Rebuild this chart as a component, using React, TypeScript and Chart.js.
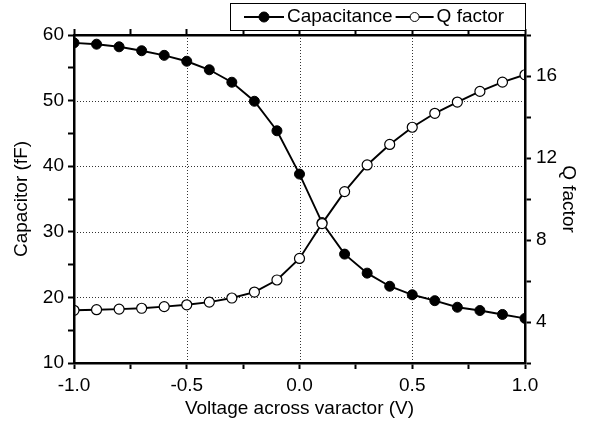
import React, { useEffect, useRef } from 'react';
import { Chart, registerables } from 'chart.js';

Chart.register(...registerables);

// ---- Data ----
const voltages = [-1.0, -0.9, -0.8, -0.7, -0.6, -0.5, -0.4, -0.3, -0.2, -0.1, 0.0, 0.1, 0.2, 0.3, 0.4, 0.5, 0.6, 0.7, 0.8, 0.9, 1.0];
const capacitance = [58.8, 58.6, 58.2, 57.6, 56.9, 56.0, 54.7, 52.8, 49.9, 45.4, 38.8, 31.4, 26.6, 23.7, 21.7, 20.4, 19.5, 18.5, 18.0, 17.4, 16.8];
const qFactor = [4.57, 4.6, 4.63, 4.67, 4.75, 4.84, 4.97, 5.17, 5.46, 6.05, 7.1, 8.8, 10.36, 11.66, 12.66, 13.5, 14.18, 14.73, 15.25, 15.7, 16.06];

const xTickLabels = [-1.0, -0.5, 0.0, 0.5, 1.0];
const leftTickLabels = [10, 20, 30, 40, 50, 60];
const rightTickLabels = [4, 8, 12, 16];
const xGridValues = [-0.5, 0.0, 0.5];
const yGridValues = [20, 30, 40, 50];

const seriesNames = ['Capacitance', 'Q factor'];
const xTitle = 'Voltage across varactor (V)';
const leftTitle = 'Capacitor (fF)';
const rightTitle = 'Q factor';

const FONT = '"Liberation Sans", Arial, sans-serif';
const FS = 19;
const near = (a: number, b: number) => Math.abs(a - b) < 1e-6;

const dottedGrid = {
  id: 'dottedGrid',
  beforeDatasetsDraw(chart: any) {
    const { ctx, chartArea } = chart;
    const xs = chart.scales.x;
    const ys = chart.scales.y;
    ctx.save();
    ctx.strokeStyle = '#333';
    ctx.lineWidth = 1;
    ctx.setLineDash([1, 2]);
    xGridValues.forEach((v) => {
      const px = Math.round(xs.getPixelForValue(v)) + 0.5;
      ctx.beginPath();
      ctx.moveTo(px, chartArea.top);
      ctx.lineTo(px, chartArea.bottom);
      ctx.stroke();
    });
    yGridValues.forEach((v) => {
      const py = Math.round(ys.getPixelForValue(v)) + 0.5;
      ctx.beginPath();
      ctx.moveTo(chartArea.left, py);
      ctx.lineTo(chartArea.right, py);
      ctx.stroke();
    });
    ctx.restore();
  },
};

const boxLegend = {
  id: 'boxLegend',
  afterDraw(chart: any) {
    const { ctx, chartArea } = chart;
    const right = chartArea.right;
    const w = 295;
    const h = 27;
    const x0 = right - w;
    const y0 = 3;
    ctx.save();
    ctx.fillStyle = '#fff';
    ctx.fillRect(x0, y0, w, h);
    ctx.strokeStyle = '#000';
    ctx.lineWidth = 1;
    ctx.strokeRect(x0 + 0.5, y0 + 0.5, w, h);
    ctx.font = `${FS}px ${FONT}`;
    ctx.textBaseline = 'middle';
    ctx.fillStyle = '#000';
    const cy = y0 + h / 2 + 0.5;
    let x = x0 + 14;
    chart.data.datasets.forEach((ds: any, i: number) => {
      const lineLen = i === 0 ? 40 : 38;
      ctx.strokeStyle = '#000';
      ctx.lineWidth = 2;
      ctx.beginPath();
      ctx.moveTo(x, cy);
      ctx.lineTo(x + lineLen, cy);
      ctx.stroke();
      ctx.beginPath();
      ctx.arc(x + lineLen / 2, cy, i === 0 ? 5 : 4.5, 0, Math.PI * 2);
      ctx.fillStyle = ds.pointBackgroundColor;
      ctx.fill();
      ctx.lineWidth = 1;
      ctx.stroke();
      ctx.fillStyle = '#000';
      ctx.textAlign = 'left';
      ctx.fillText(ds.label, x + lineLen + 3, cy);
      x += lineLen + 3 + ctx.measureText(ds.label).width + 3;
    });
    ctx.restore();
  },
};

export default function App() {
  const canvasRef = useRef<HTMLCanvasElement | null>(null);

  useEffect(() => {
    if (!canvasRef.current) return;
    const tickFont = { family: FONT, size: FS };
    const titleFont = { family: FONT, size: FS };
    const chart = new Chart(canvasRef.current, {
      type: 'line',
      data: {
        datasets: [
          {
            label: seriesNames[0],
            data: voltages.map((v, i) => ({ x: v, y: capacitance[i] })),
            yAxisID: 'y',
            borderColor: '#000',
            borderWidth: 1.9,
            pointRadius: 5,
            pointBackgroundColor: '#000',
            pointBorderColor: '#000',
            pointBorderWidth: 1,
            clip: 0,
            order: 2,
          },
          {
            label: seriesNames[1],
            data: voltages.map((v, i) => ({ x: v, y: qFactor[i] })),
            yAxisID: 'y1',
            borderColor: '#000',
            borderWidth: 1.9,
            pointRadius: 5,
            pointBackgroundColor: '#fff',
            pointBorderColor: '#000',
            pointBorderWidth: 1.2,
            clip: 0,
            order: 1,
          },
        ],
      },
      options: {
        animation: false,
        responsive: false,
        maintainAspectRatio: false,
        layout: { padding: { top: 29, left: 0, right: 0, bottom: 0 } },
        plugins: { legend: { display: false }, tooltip: { enabled: false } },
        scales: {
          x: {
            type: 'linear',
            position: 'bottom',
            min: -1,
            max: 1,
            afterBuildTicks: (s: any) => {
              const t = [];
              for (let k = 0; k <= 8; k++) t.push({ value: -1 + k * 0.25 });
              s.ticks = t;
            },
            afterFit: (s: any) => { s.height = 63; },
            ticks: {
              font: tickFont,
              color: '#000',
              padding: 5,
              maxRotation: 0,
              autoSkip: false,
              callback: (v: any) => {
                const m = xTickLabels.find((t) => near(t, Number(v)));
                return m === undefined ? '' : m.toFixed(1);
              },
            },
            grid: { drawOnChartArea: false, drawTicks: true, tickLength: 6, tickWidth: 2, tickColor: '#000', color: '#000', lineWidth: 1 },
            border: { display: true, color: '#000', width: 2.5, z: 1 },
            title: { display: true, text: xTitle, font: titleFont, color: '#000', padding: { top: 0, bottom: 5.5 } },
          },
          x2: {
            type: 'linear',
            position: 'top',
            min: -1,
            max: 1,
            afterBuildTicks: (s: any) => {
              const t = [];
              for (let k = 0; k <= 8; k++) t.push({ value: -1 + k * 0.25 });
              s.ticks = t;
            },
            afterFit: (s: any) => { s.height = 6; },
            ticks: { display: false },
            grid: { drawOnChartArea: false, drawTicks: true, tickLength: 6, tickWidth: 2, tickColor: '#000', color: '#000', lineWidth: 1 },
            border: { display: true, color: '#000', width: 2.5, z: 1 },
          },
          y: {
            type: 'linear',
            position: 'left',
            min: 10,
            max: 60,
            afterBuildTicks: (s: any) => {
              const t = [];
              for (let v = 10; v <= 60; v += 5) t.push({ value: v });
              s.ticks = t;
            },
            afterFit: (s: any) => { s.width = 74; },
            ticks: {
              font: tickFont,
              color: '#000',
              padding: 4,
              autoSkip: false,
              callback: (v: any) => (leftTickLabels.some((t) => near(t, Number(v))) ? String(v) : ''),
            },
            grid: { drawOnChartArea: false, drawTicks: true, tickLength: 6, tickWidth: 2, tickColor: '#000', color: '#000', lineWidth: 1 },
            border: { display: true, color: '#000', width: 2.5, z: 1 },
            title: { display: true, text: leftTitle, font: titleFont, color: '#000', padding: { top: 10.5, bottom: 0 } },
          },
          y1: {
            type: 'linear',
            position: 'right',
            min: 2,
            max: 18,
            afterBuildTicks: (s: any) => {
              const t = [];
              for (let v = 2; v <= 18; v += 2) t.push({ value: v });
              s.ticks = t;
            },
            afterFit: (s: any) => { s.width = 75; },
            ticks: {
              font: tickFont,
              color: '#000',
              padding: 5,
              autoSkip: false,
              callback: (v: any) => (rightTickLabels.some((t) => near(t, Number(v))) ? String(v) : ''),
            },
            grid: { drawOnChartArea: false, drawTicks: true, tickLength: 6, tickWidth: 2, tickColor: '#000', color: '#000', lineWidth: 1 },
            border: { display: true, color: '#000', width: 2.5, z: 1 },
            title: { display: true, text: rightTitle, font: titleFont, color: '#000', padding: { top: 20.5, bottom: 0 } },
          },
        },
      },
      plugins: [dottedGrid, boxLegend],
    } as any);
    return () => chart.destroy();
  }, []);

  return (
    <div style={{ position: 'absolute', left: 0, top: 0, width: 600, height: 426, background: '#fff' }}>
      <canvas ref={canvasRef} width={600} height={426} />
    </div>
  );
}
